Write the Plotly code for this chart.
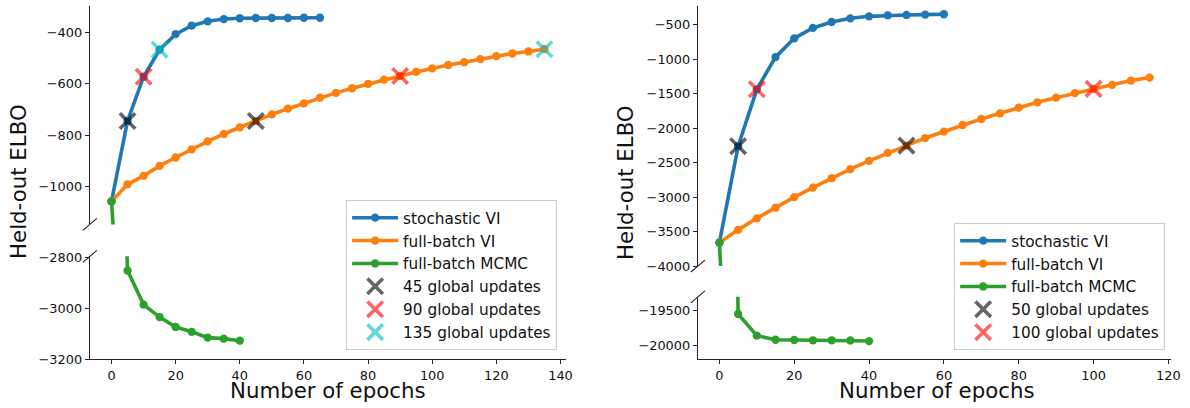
import plotly.graph_objects as go

W, H = 1190, 408
# the photographed picture maps page pixels as pic_x = SX*x, pic_y = SY*y + DY;
# all positions below are given in picture pixels and converted to page pixels.
SX, SY, DY = 0.994, 0.967, 5.3

# ---------------- data: left panel ----------------
L_svi_epochs = [0, 5, 10, 15, 20, 25, 30, 35, 40, 45, 50, 55, 60, 65]
L_svi_elbo = [-1060, -745, -572, -466, -405, -372, -355, -346, -343, -342, -342, -342, -341, -341]
L_fb_epochs = [0, 5, 10, 15, 20, 25, 30, 35, 40, 45, 50, 55, 60, 65, 70, 75, 80, 85, 90, 95,
               100, 105, 110, 115, 120, 125, 130, 135]
L_fb_elbo = [-1060, -993, -960, -921, -888, -856, -825, -796, -770, -745, -719, -697, -676, -654,
             -635, -617, -600, -583, -569, -553, -539, -526, -515, -503, -491, -481, -473, -464]
L_mcmc_epochs = [0, 5, 10, 15, 20, 25, 30, 35, 40]
L_mcmc_elbo = [-1060, -2851, -2985, -3034, -3073, -3092, -3115, -3119, -3127]
L_mark_labels = ["45 global updates", "90 global updates", "135 global updates"]
L_mark_epochs = [[5, 45], [10, 90], [15, 135]]
L_mark_elbo = [[-745, -745], [-572, -569], [-466, -464]]

# ---------------- data: right panel ----------------
R_svi_epochs = [0, 5, 10, 15, 20, 25, 30, 35, 40, 45, 50, 55, 60]
R_svi_elbo = [-3660, -2260, -1435, -967, -694, -543, -457, -404, -375, -362, -355, -350, -345]
R_fb_epochs = [0, 5, 10, 15, 20, 25, 30, 35, 40, 45, 50, 55, 60, 65, 70, 75, 80, 85, 90, 95,
               100, 105, 110, 115]
R_fb_elbo = [-3660, -3475, -3307, -3153, -3000, -2861, -2725, -2594, -2474, -2358, -2252, -2142,
             -2049, -1952, -1865, -1783, -1701, -1623, -1556, -1490, -1428, -1370, -1308, -1264]
R_mcmc_epochs = [0, 5, 10, 15, 20, 25, 30, 35, 40]
R_mcmc_elbo = [-3660, -19549, -19863, -19922, -19926, -19930, -19930, -19932, -19941]
R_mark_labels = ["50 global updates", "100 global updates"]
R_mark_epochs = [[5, 50], [10, 100]]
R_mark_elbo = [[-2260, -2252], [-1435, -1428]]

# tick labels
L_xticks = [0, 20, 40, 60, 80, 100, 120, 140]
R_xticks = [0, 20, 40, 60, 80, 100, 120]
L_top_yticks = [-1000, -800, -600, -400]
L_bot_yticks = [-3200, -3000, -2800]
R_top_yticks = [-4000, -3500, -3000, -2500, -2000, -1500, -1000, -500]
R_bot_yticks = [-20000, -19500]

# ---------------- styling ----------------
C_SVI, C_FB, C_MCMC = "#1f77b4", "#ff7f0e", "#2ca02c"
MARK_COLORS = ["#000000", "#ff0000", "#00bfbf"]
FONT = "DejaVu Sans"
SPINE = "#222222"
TXT = "#111111"
LW = 3.6
MS = 8.3


def fmt(v):
    return str(v).replace("-", "\u2212")


def px_x(p):
    return (p / SX) / W


def px_y(p):
    return min(1.0, 1 - ((p - DY) / SY) / H)


# domains (picture pixels)
L_xdom = [px_x(90), px_x(567)]
R_xdom = [px_x(699), px_x(1173)]
L_top_dom = [px_y(224), px_y(DY)]
L_bot_dom = [px_y(359), px_y(256)]
R_top_dom = [px_y(265.7), px_y(DY)]
R_bot_dom = [px_y(359), px_y(296.5)]

fig = go.Figure()


def add_lines(xa, ya_top, ya_bot, series, legend):
    for i, (name, xs, ys, col) in enumerate(series):
        for j, ya in enumerate([ya_top, ya_bot]):
            fig.add_trace(go.Scatter(
                x=xs, y=ys, name=name, mode="lines+markers",
                line=dict(color=col, width=LW),
                marker=dict(color=col, size=MS, symbol="circle"),
                xaxis=xa, yaxis=ya, legend=legend,
                showlegend=(j == 0), legendrank=i + 1,
                cliponaxis=True,
            ))


def add_marks(xa, ya, labels, xs_list, ys_list, legend, start_rank):
    for k, (lab, xs, ys) in enumerate(zip(labels, xs_list, ys_list)):
        fig.add_trace(go.Scatter(
            x=xs, y=ys, name=lab, mode="markers",
            marker=dict(symbol="x-thin", size=15.5, color=MARK_COLORS[k],
                        line=dict(color=MARK_COLORS[k], width=3.6)),
            opacity=0.6, xaxis=xa, yaxis=ya, legend=legend,
            legendrank=start_rank + k,
        ))


add_lines("x", "y2", "y",
          [("stochastic VI", L_svi_epochs, L_svi_elbo, C_SVI),
           ("full-batch VI", L_fb_epochs, L_fb_elbo, C_FB),
           ("full-batch MCMC", L_mcmc_epochs, L_mcmc_elbo, C_MCMC)], "legend")
add_marks("x", "y2", L_mark_labels, L_mark_epochs, L_mark_elbo, "legend", 4)

add_lines("x2", "y4", "y3",
          [("stochastic VI", R_svi_epochs, R_svi_elbo, C_SVI),
           ("full-batch VI", R_fb_epochs, R_fb_elbo, C_FB),
           ("full-batch MCMC", R_mcmc_epochs, R_mcmc_elbo, C_MCMC)], "legend2")
add_marks("x2", "y4", R_mark_labels, R_mark_epochs, R_mark_elbo, "legend2", 4)

tickfont = dict(family=FONT, size=12.9, color=TXT)


def axis(dom, rng, ticks, anchor):
    return dict(domain=dom, range=rng, anchor=anchor, showgrid=False, zeroline=False,
                showline=True, linecolor=SPINE, linewidth=1.2, ticks="outside", ticklen=4,
                tickwidth=1.1, tickcolor=SPINE, tickvals=ticks, ticktext=[fmt(t) for t in ticks],
                tickfont=tickfont)


legend_common = dict(font=dict(family=FONT, size=15.3, color=TXT), bgcolor="rgba(255,255,255,0.8)",
                     bordercolor="#cccccc", borderwidth=1, yanchor="bottom", xanchor="right",
                     itemwidth=46, tracegroupgap=0)

fig.update_layout(
    width=W, height=H, margin=dict(l=0, r=0, t=0, b=0),
    paper_bgcolor="white", plot_bgcolor="white",
    font=dict(family=FONT, color=TXT),
    xaxis=axis(L_xdom, [-6.75, 141.75], L_xticks, "y"),
    xaxis2=axis(R_xdom, [-5.75, 120.75], R_xticks, "y3"),
    yaxis=axis(L_bot_dom, [-3200, -2795], L_bot_yticks, "x"),
    yaxis2=axis(L_top_dom, [-1150, -295], L_top_yticks, "x"),
    yaxis3=axis(R_bot_dom, [-20204, -19300], R_bot_yticks, "x2"),
    yaxis4=axis(R_top_dom, [-4000, -225], R_top_yticks, "x2"),
    legend=dict(x=px_x(558), y=px_y(350), **legend_common),
    legend2=dict(x=px_x(1167), y=px_y(350), **legend_common),
    showlegend=True,
)

# axis titles
for xc, yc, txt, ang in [(18.5, 181, "Held-out ELBO", -90), (626.5, 182, "Held-out ELBO", -90),
                         (328.5, 390.2, "Number of epochs", 0), (938, 390.2, "Number of epochs", 0)]:
    fig.add_annotation(x=px_x(xc), y=px_y(yc), xref="paper", yref="paper", text=txt,
                       showarrow=False, textangle=ang, xanchor="center", yanchor="middle",
                       font=dict(family=FONT, size=21.3, color=TXT))

# broken-axis diagonal marks
for xs, ys in [(90, 224), (90, 256), (699, 265.7), (699, 296.5)]:
    fig.add_shape(type="line", xref="paper", yref="paper",
                  x0=px_x(xs - 7), x1=px_x(xs + 7), y0=px_y(ys + 6), y1=px_y(ys - 6),
                  line=dict(color=SPINE, width=1.1))

fig.write_html("out.html", config={"displayModeBar": False},
               post_script="document.body.style.margin='0';document.body.style.overflow='hidden';")
